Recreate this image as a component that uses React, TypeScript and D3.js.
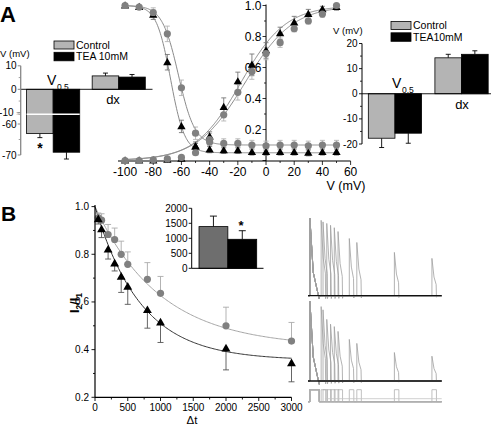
import React from "react";
import * as d3 from "d3";

const FONT = "'Liberation Sans', Arial, Helvetica, sans-serif";

// ---------- Panel A (main): steady-state activation / inactivation ----------
const voltages = [-100, -90, -80, -70, -60, -50, -40, -30, -20, -10, 0, 10, 20, 30, 40, 50];
const inactControl = [1.0, 0.99, 0.955, 0.817, 0.469, 0.176, 0.135, 0.11, 0.11, 0.1, 0.095, 0.1, 0.1, 0.095, 0.1, 0.1];
const inactControlErr = [0.01, 0.01, 0.03, 0.05, 0.05, 0.04, 0.04, 0.03, 0.03, 0.03, 0.03, 0.03, 0.03, 0.03, 0.03, 0.03];
const inactTEA = [1.0, 0.99, 0.94, 0.634, 0.22, 0.09, 0.07, 0.065, 0.065, 0.055, 0.054, 0.055, 0.055, 0.05, 0.055, 0.055];
const inactTEAErr = [0.01, 0.01, 0.03, 0.05, 0.04, 0.03, 0.02, 0.02, 0.02, 0.02, 0.02, 0.02, 0.02, 0.02, 0.02, 0.02];
const actControl = [0.0, 0.0, 0.005, 0.01, 0.02, 0.05, 0.12, 0.295, 0.44, 0.574, 0.69, 0.76, 0.85, 0.9, 0.945, 1.0];
const actControlErr = [0.005, 0.005, 0.005, 0.01, 0.01, 0.01, 0.02, 0.04, 0.05, 0.05, 0.04, 0.03, 0.02, 0.02, 0.02, 0.01];
const actTEA = [0.0, 0.0, 0.0, 0.005, 0.01, 0.09, 0.155, 0.344, 0.51, 0.617, 0.71, 0.82, 0.89, 0.945, 0.975, 0.99];
const actTEAErr = [0.005, 0.005, 0.005, 0.01, 0.01, 0.02, 0.03, 0.06, 0.06, 0.07, 0.05, 0.04, 0.04, 0.03, 0.02, 0.02];
// Boltzmann fit parameters [V0.5, k, bottom]
const fitInactControl = [-62.1, 5.8, 0.1];
const fitInactTEA = [-67.7, 5.0, 0.05];
const fitActControl = [-15, 17];
const fitActTEA = [-18, 16];
const aXTicks = [-100, -80, -60, -40, -20, 0, 20, 40, 60];
const aYTicks = [0.2, 0.4, 0.6, 0.8, 1.0];

// ---------- Panel A insets: Boltzmann parameters ----------
const insetGroups = ["V0.5", "dx"];
const inactParamControl = [-63.1, 5.7];
const inactParamControlErr = [1.3, 1.2];
const inactParamTEA = [-69.1, 5.2];
const inactParamTEAErr = [2.2, 1.1];
const inactTicksTop = [10, 0, -10];
const inactTicksBottom = [-60, -70];
const actParamControl = [-17.7, 14.3];
const actParamControlErr = [3.7, 1.4];
const actParamTEA = [-15.7, 15.7];
const actParamTEAErr = [4.0, 1.4];
const actTicks = [20, 10, 0, -10, -20];

// ---------- Panel B: recovery from inactivation ----------
const dtValues = [50, 100, 200, 300, 400, 500, 800, 1000, 2000, 3000];
const recControl = [0.953, 0.943, 0.883, 0.862, 0.8, 0.758, 0.695, 0.636, 0.5, 0.436];
const recControlErr = [0.02, 0.027, 0.042, 0.048, 0.055, 0.052, 0.07, 0.071, 0.078, 0.078];
const recTEA = [0.947, 0.905, 0.82, 0.762, 0.706, 0.664, 0.566, 0.514, 0.405, 0.343];
const recTEAErr = [0.02, 0.035, 0.04, 0.032, 0.066, 0.074, 0.076, 0.084, 0.09, 0.078];
// exponential fits [plateau, tau]
const fitRecControl = [0.41, 1000];
const fitRecTEA = [0.355, 700];
const bXTicks = [0, 500, 1000, 1500, 2000, 2500, 3000];
const bYTicks = [0.2, 0.4, 0.6, 0.8, 1.0];
// inset: time constants
const tauLabels = ["Control", "TEA"];
const tauValues = [1390, 967];
const tauErr = [350, 286];
const tauTicks = [0, 500, 1000, 1500, 2000];

// ---------- Panel B: example current traces ----------
const condPulseMs = 250;
const testPulseMs = 120;
const traceRatioControl = [0.97, 0.95, 0.93, 0.906, 0.875, 0.826, 0.736, 0.685, 0.557, 0.48];
const traceRatioTEA = [0.93, 0.89, 0.77, 0.71, 0.68, 0.62, 0.52, 0.47, 0.356, 0.31];
const firstSpikeShape = [[0, 0], [0, 1], [90, 0.3], [200, 0.06], [250, -0.04], [262, 0]];
const testSpikeShape = [[0, 0], [0, 1], [55, 0.5], [112, 0.3], [120, -0.04], [132, 0]];

const GRAY = "#808080";
const LIGHT = "#b3b3b3";

function ErrBar({ x, y1, y2, w, color }) {
  return (
    <g stroke={color} strokeWidth={0.9}>
      <line x1={x} x2={x} y1={y1} y2={y2} />
      <line x1={x - w / 2} x2={x + w / 2} y1={y2} y2={y2} />
    </g>
  );
}

const tri = d3.symbol(d3.symbolTriangle, 30)() as string;
const triB = d3.symbol(d3.symbolTriangle, 34)() as string;

function PanelAMain() {
  const x = d3.scaleLinear().domain([-105, 60]).range([118, 350.6]);
  const y = d3.scaleLinear().domain([0, 1]).range([160.5, 5.5]);
  const vFine = d3.range(-100, 50.5, 0.5);
  const line = d3.line<[number, number]>().x((d) => x(d[0])).y((d) => y(d[1]));
  const inact = (p) => (v) => p[2] + (1 - p[2]) / (1 + Math.exp((v - p[0]) / p[1]));
  const act = (p) => (v) => 1 / (1 + Math.exp((p[0] - v) / p[1]));
  const curves = [inact(fitInactControl), inact(fitInactTEA), act(fitActControl), act(fitActTEA)];
  const minorX = d3.range(-100, 61, 10);
  const minorY = d3.range(0, 1.01, 0.1);
  return (
    <g fontFamily={FONT}>
      {curves.map((f, i) => (
        <path key={i} d={line(vFine.map((v) => [v, f(v)]))!} fill="none" stroke="#8a8a8a" strokeWidth={1} />
      ))}
      {/* axes */}
      <line x1={x(-105)} x2={x(60)} y1={161} y2={161} stroke="#000" strokeWidth={1.2} />
      <line x1={x(0)} x2={x(0)} y1={y(1.0) - 1} y2={161} stroke="#000" strokeWidth={1} />
      {minorX.map((t) => (
        <line key={"mx" + t} x1={x(t)} x2={x(t)} y1={161} y2={t % 20 === 0 ? 165 : 163} stroke="#000" strokeWidth={0.8} />
      ))}
      {minorY.map((t, i) => (
        <line key={"my" + i} x1={x(0)} x2={x(0) - (i % 2 === 0 ? 3.5 : 2)} y1={y(t)} y2={y(t)} stroke="#000" strokeWidth={0.8} />
      ))}
      {aXTicks.map((t) => (
        <text key={"tx" + t} x={x(t)} y={176} fontSize={12} textAnchor="middle">{t}</text>
      ))}
      {aYTicks.map((t) => (
        <text key={"ty" + t} x={261.5} y={y(t) + 4.3} fontSize={12} textAnchor="end">{t.toFixed(1)}</text>
      ))}
      <text x={346} y={190} fontSize={12.5} textAnchor="middle">V (mV)</text>
      {/* triangles (TEA) */}
      {voltages.map((v, i) => (
        <g key={"ti" + v}>
          <ErrBar x={x(v)} y1={y(inactTEA[i])} y2={y(inactTEA[i] + inactTEAErr[i])} w={5} color="#777" />
          <ErrBar x={x(v)} y1={y(inactTEA[i])} y2={y(inactTEA[i] - inactTEAErr[i])} w={5} color="#777" />
          <ErrBar x={x(v)} y1={y(actTEA[i])} y2={y(actTEA[i] + actTEAErr[i])} w={5} color="#777" />
          <ErrBar x={x(v)} y1={y(actTEA[i])} y2={y(actTEA[i] - actTEAErr[i])} w={5} color="#777" />
        </g>
      ))}
      {voltages.map((v, i) => (
        <g key={"ci" + v}>
          <ErrBar x={x(v)} y1={y(inactControl[i])} y2={y(inactControl[i] + inactControlErr[i])} w={5} color={LIGHT} />
          <ErrBar x={x(v)} y1={y(inactControl[i])} y2={y(inactControl[i] - inactControlErr[i])} w={5} color={LIGHT} />
          <ErrBar x={x(v)} y1={y(actControl[i])} y2={y(actControl[i] + actControlErr[i])} w={5} color={LIGHT} />
          <ErrBar x={x(v)} y1={y(actControl[i])} y2={y(actControl[i] - actControlErr[i])} w={5} color={LIGHT} />
        </g>
      ))}
      {voltages.map((v, i) => (
        <g key={"tm" + v}>
          <path d={tri} transform={`translate(${x(v)},${y(inactTEA[i]) + 0.5})`} fill="#000" />
          <path d={tri} transform={`translate(${x(v)},${y(actTEA[i]) + 0.5})`} fill="#000" />
        </g>
      ))}
      {voltages.map((v, i) => (
        <g key={"cm" + v}>
          <circle cx={x(v)} cy={y(inactControl[i])} r={3.6} fill={GRAY} />
          <circle cx={x(v)} cy={y(actControl[i])} r={3.6} fill={GRAY} />
        </g>
      ))}
    </g>
  );
}

function Legend({ x, y, labels, size }) {
  return (
    <g fontFamily={FONT}>
      <rect x={x} y={y} width={20} height={8} fill="#b4b4b4" stroke="#000" strokeWidth={0.8} />
      <rect x={x} y={y + 11.3} width={20} height={8.5} fill="#000" stroke="#000" strokeWidth={0.8} />
      <text x={x + 22} y={y + 7.8} fontSize={size}>{labels[0]}</text>
      <text x={x + 22} y={y + 19.3} fontSize={size}>{labels[1]}</text>
    </g>
  );
}

function InsetInact() {
  const axisX = 20.7;
  const top = d3.scaleLinear().domain([-10, 10]).range([112.8, 65.8]);
  const bottom = d3.scaleLinear().domain([-70, -60]).range([155, 124]);
  const yv = (v) => (v >= -10 ? top(v) : bottom(v));
  const band = d3.scaleBand().domain(insetGroups).range([axisX, 151.2]).paddingInner(0.19).paddingOuter(0.09);
  const sub = d3.scaleBand().domain(["c", "t"]).range([0, band.bandwidth()]);
  const minor = [5, -5, -65];
  return (
    <g fontFamily={FONT}>
      {insetGroups.map((g, i) => {
        const bx = band(g)!;
        const vals = [inactParamControl[i], inactParamTEA[i]];
        const errs = [inactParamControlErr[i], inactParamTEAErr[i]];
        return (
          <g key={g}>
            {vals.map((v, j) => {
              const x0 = bx + sub(j === 0 ? "c" : "t")!;
              const y0 = yv(0);
              const y1 = yv(v);
              const ye = yv(v + (v < 0 ? -errs[j] : errs[j]));
              return (
                <g key={j}>
                  <ErrBar x={x0 + sub.bandwidth() / 2} y1={y1} y2={ye} w={5} color="#000" />
                  <rect x={x0} y={Math.min(y0, y1)} width={sub.bandwidth()} height={Math.abs(y1 - y0)} fill={j === 0 ? "#b4b4b4" : "#000"} stroke="#000" strokeWidth={0.8} />
                </g>
              );
            })}
          </g>
        );
      })}
      {/* axis break across V0.5 bars */}
      <line x1={band("V0.5")!} x2={band("V0.5")! + band.bandwidth()} y1={114.3} y2={114.3} stroke="#fff" strokeWidth={1.6} />
      <line x1={axisX} x2={152.5} y1={yv(0)} y2={yv(0)} stroke="#000" strokeWidth={0.9} />
      <line x1={axisX} x2={axisX} y1={top(10)} y2={bottom(-70)} stroke="#888" strokeWidth={1.3} />
      {inactTicksTop.map((t) => (
        <g key={t}>
          <line x1={axisX - 3} x2={axisX} y1={top(t)} y2={top(t)} stroke="#888" strokeWidth={1} />
          <text x={t === -10 ? 13.5 : 16.5} y={top(t) + 3.6} fontSize={10} textAnchor="end">{t}</text>
        </g>
      ))}
      {inactTicksBottom.map((t) => (
        <g key={t}>
          <line x1={axisX - 3} x2={axisX} y1={bottom(t)} y2={bottom(t)} stroke="#888" strokeWidth={1} />
          <text x={16.5} y={bottom(t) + 3.6} fontSize={10} textAnchor="end">{t}</text>
        </g>
      ))}
      {minor.map((t) => (
        <line key={t} x1={axisX - 2} x2={axisX} y1={yv(t)} y2={yv(t)} stroke="#888" strokeWidth={0.8} />
      ))}
      <text x={16.5} y={115.5} fontSize={8} fill="#888">≈</text>
      <text x={0} y={56.5} fontSize={9.5}>V (mV)</text>
      <text x={40} y={153} fontSize={14} fontWeight="bold" textAnchor="middle">*</text>
      <text x={47} y={85} fontSize={14}>V</text>
      <text x={57} y={90} fontSize={8.5}>0.5</text>
      <text x={113} y={103.5} fontSize={13} textAnchor="middle">dx</text>
      <Legend x={54} y={41} labels={["Control", "TEA 10mM"]} size={10.5} />
    </g>
  );
}

function InsetAct() {
  const axisX = 362;
  const y = d3.scaleLinear().domain([-20, 20]).range([144, 43.5]);
  const band = d3.scaleBand().domain(insetGroups).range([axisX, 494.5]).paddingInner(0.2).paddingOuter(0.095);
  const sub = d3.scaleBand().domain(["c", "t"]).range([0, band.bandwidth()]);
  return (
    <g fontFamily={FONT}>
      {insetGroups.map((g, i) => {
        const bx = band(g)!;
        const vals = [actParamControl[i], actParamTEA[i]];
        const errs = [actParamControlErr[i], actParamTEAErr[i]];
        return (
          <g key={g}>
            {vals.map((v, j) => {
              const x0 = bx + sub(j === 0 ? "c" : "t")!;
              const y0 = y(0);
              const y1 = y(v);
              const ye = y(v + (v < 0 ? -errs[j] : errs[j]));
              return (
                <g key={j}>
                  <ErrBar x={x0 + sub.bandwidth() / 2} y1={y1} y2={ye} w={5} color="#000" />
                  <rect x={x0} y={Math.min(y0, y1)} width={sub.bandwidth()} height={Math.abs(y1 - y0)} fill={j === 0 ? "#b4b4b4" : "#000"} stroke="#000" strokeWidth={0.8} />
                </g>
              );
            })}
          </g>
        );
      })}
      <line x1={axisX} x2={491} y1={y(0)} y2={y(0)} stroke="#000" strokeWidth={0.9} />
      <line x1={axisX} x2={axisX} y1={y(20)} y2={y(-20)} stroke="#000" strokeWidth={1} />
      {actTicks.map((t) => (
        <g key={t}>
          <line x1={axisX - 3} x2={axisX} y1={y(t)} y2={y(t)} stroke="#000" strokeWidth={0.9} />
          <text x={357.5} y={y(t) + 3.6} fontSize={10} textAnchor="end">{t}</text>
        </g>
      ))}
      {[15, 5, -5, -15].map((t) => (
        <line key={t} x1={axisX - 2} x2={axisX} y1={y(t)} y2={y(t)} stroke="#000" strokeWidth={0.8} />
      ))}
      <text x={333} y={34} fontSize={9.5}>V (mV)</text>
      <text x={392} y={87.5} fontSize={14}>V</text>
      <text x={402} y={92.5} fontSize={8.5}>0.5</text>
      <text x={462} y={109} fontSize={13} textAnchor="middle">dx</text>
      <Legend x={391} y={21.5} labels={["Control", "TEA10mM"]} size={10.5} />
    </g>
  );
}

function PanelBMain() {
  const x = d3.scaleLinear().domain([0, 3000]).range([95, 291.5]);
  const y = d3.scaleLinear().domain([0.2, 1.0]).range([397.3, 206.6]);
  const tFine = d3.range(0, 3001, 20);
  const line = d3.line<[number, number]>().x((d) => x(d[0])).y((d) => y(d[1]));
  const expFit = (p) => (t) => p[0] + (1 - p[0]) * Math.exp(-t / p[1]);
  return (
    <g fontFamily={FONT}>
      <path d={line(tFine.map((t) => [t, expFit(fitRecControl)(t)]))!} fill="none" stroke="#a6a6a6" strokeWidth={1} />
      <path d={line(tFine.map((t) => [t, expFit(fitRecTEA)(t)]))!} fill="none" stroke="#333" strokeWidth={1} />
      {dtValues.map((t, i) => (
        <ErrBar key={"ce" + t} x={x(t)} y1={y(recControl[i])} y2={y(recControl[i] + recControlErr[i])} w={6} color="#aaa" />
      ))}
      {dtValues.map((t, i) => (
        <ErrBar key={"te" + t} x={x(t)} y1={y(recTEA[i])} y2={y(recTEA[i] - recTEAErr[i])} w={6} color="#555" />
      ))}
      {dtValues.map((t, i) => (
        <circle key={"c" + t} cx={x(t)} cy={y(recControl[i])} r={3.6} fill={GRAY} />
      ))}
      {dtValues.map((t, i) => (
        <path key={"t" + t} d={triB} transform={`translate(${x(t)},${y(recTEA[i]) + 0.5})`} fill="#000" />
      ))}
      <line x1={95} x2={95} y1={205} y2={397.3} stroke="#000" strokeWidth={1.2} />
      <line x1={95} x2={x(3000)} y1={397.3} y2={397.3} stroke="#000" strokeWidth={1.2} />
      {d3.range(0, 3001, 250).map((t) => (
        <line key={"xt" + t} x1={x(t)} x2={x(t)} y1={397.3} y2={t % 500 === 0 ? 401 : 399.5} stroke="#000" strokeWidth={0.9} />
      ))}
      {d3.range(0.2, 1.01, 0.1).map((t, i) => (
        <line key={"yt" + i} x1={95} x2={i % 2 === 0 ? 91.5 : 93} y1={y(t)} y2={y(t)} stroke="#000" strokeWidth={0.9} />
      ))}
      {bXTicks.map((t) => (
        <text key={"xl" + t} x={x(t)} y={410.5} fontSize={10} textAnchor="middle">{t}</text>
      ))}
      {bYTicks.map((t) => (
        <text key={"yl" + t} x={89} y={y(t) + 3.5} fontSize={10} textAnchor="end">{t.toFixed(1)}</text>
      ))}
      <text x={192} y={423.5} fontSize={11.5} textAnchor="middle">Δt</text>
      <g transform="translate(79,303) rotate(-90)">
        <text x={0} y={0} fontSize={12.5} fontWeight="bold" textAnchor="middle">
          I<tspan fontSize={8.5} dy={3}>2</tspan><tspan dy={-3}>/I</tspan><tspan fontSize={8.5} dy={3}>1</tspan>
        </text>
      </g>
    </g>
  );
}

function InsetTau() {
  const axisX = 191.7;
  const y = d3.scaleLinear().domain([0, 2000]).range([268.3, 208.3]);
  const band = d3.scaleBand().domain(tauLabels).range([199, 256.7]);
  return (
    <g fontFamily={FONT}>
      {tauLabels.map((l, i) => (
        <g key={l}>
          <ErrBar x={band(l)! + band.bandwidth() / 2} y1={y(tauValues[i])} y2={y(tauValues[i] + tauErr[i])} w={7} color="#000" />
          <rect x={band(l)!} y={y(tauValues[i])} width={band.bandwidth()} height={y(0) - y(tauValues[i])} fill={i === 0 ? "#6e6e6e" : "#000"} stroke="#000" strokeWidth={0.8} />
        </g>
      ))}
      <line x1={axisX} x2={263.5} y1={y(0)} y2={y(0)} stroke="#000" strokeWidth={1} />
      <line x1={axisX} x2={axisX} y1={y(2000)} y2={y(0)} stroke="#000" strokeWidth={1} />
      {tauTicks.map((t) => (
        <g key={t}>
          <line x1={axisX - 3} x2={axisX} y1={y(t)} y2={y(t)} stroke="#000" strokeWidth={0.9} />
          <text x={187.5} y={y(t) + 3.5} fontSize={10} textAnchor="end">{t}</text>
        </g>
      ))}
      <text x={241} y={230} fontSize={13} fontWeight="bold" textAnchor="middle">*</text>
    </g>
  );
}

function Traces() {
  const t = d3.scaleLinear().domain([-50, 3510]).range([308, 441.7]);
  const groups = [
    { ratios: traceRatioControl, amp: d3.scaleLinear().domain([0, 1]).range([295.7, 218]) },
    { ratios: traceRatioTEA, amp: d3.scaleLinear().domain([0, 1]).range([381, 301]) },
  ];
  const line = d3.line<[number, number]>().x((d) => d[0]).y((d) => d[1]);
  const lowY = 401.7;
  const highY = 389.7;
  return (
    <g>
      {groups.map((g, gi) => (
        <g key={gi}>
          {dtValues.map((dt, i) => {
            const t2 = condPulseMs + dt;
            const pts: [number, number][] = [[t(-50), g.amp(0)]];
            firstSpikeShape.forEach(([ms, f]) => pts.push([t(ms), g.amp(f)]));
            testSpikeShape.forEach(([ms, f]) => pts.push([t(t2 + ms), g.amp(f * g.ratios[i])]));
            pts.push([t(3510), g.amp(0)]);
            return <path key={dt} d={line(pts)!} fill="none" stroke="#a0a0a0" strokeWidth={0.8} />;
          })}
          <line x1={t(-50)} x2={t(3510)} y1={g.amp(0)} y2={g.amp(0)} stroke="#111" strokeWidth={1.3} />
        </g>
      ))}
      {dtValues.map((dt) => {
        const t2 = condPulseMs + dt;
        const pts: [number, number][] = [
          [t(-50), lowY], [t(0), lowY], [t(0), highY], [t(condPulseMs), highY], [t(condPulseMs), lowY],
          [t(t2), lowY], [t(t2), highY], [t(t2 + testPulseMs), highY], [t(t2 + testPulseMs), lowY], [t(3510), lowY],
        ];
        return <path key={"p" + dt} d={line(pts)!} fill="none" stroke="#b0b0b0" strokeWidth={0.8} />;
      })}
      <line x1={t(400)} x2={t(3510)} y1={398.7} y2={398.7} stroke="#c4c4c4" strokeWidth={0.8} />
    </g>
  );
}

export default function App() {
  return (
    <svg width={496} height={426} viewBox="0 0 496 426" style={{ position: "absolute", left: 0, top: 0, background: "#fff" }}>
      <rect x={0} y={0} width={496} height={426} fill="#fff" />
      <text x={0} y={22} fontFamily={FONT} fontWeight="bold" fontSize={22}>A</text>
      <text x={1} y={221} fontFamily={FONT} fontWeight="bold" fontSize={21}>B</text>
      <PanelAMain />
      <InsetInact />
      <InsetAct />
      <PanelBMain />
      <InsetTau />
      <Traces />
    </svg>
  );
}
